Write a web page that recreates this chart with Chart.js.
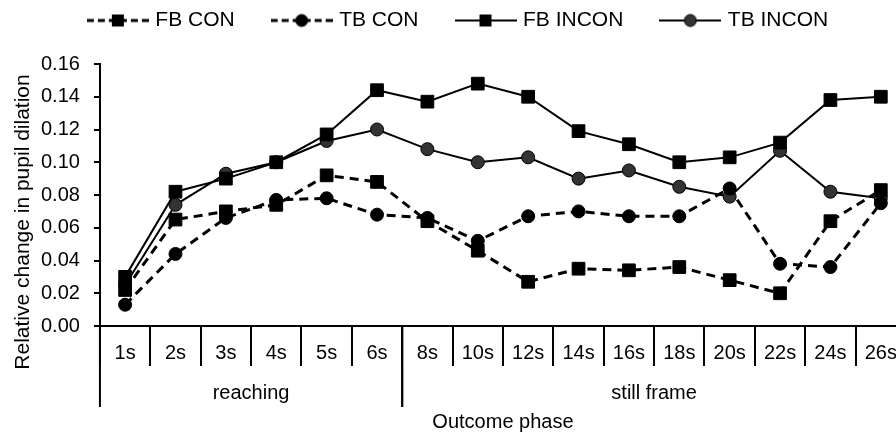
<!DOCTYPE html>
<html>
<head>
<meta charset="utf-8">
<script src="https://cdn.jsdelivr.net/npm/chart.js@4.4.0/dist/chart.umd.min.js"></script>
<style>
  body { margin: 0; overflow: hidden; background: #fff; }
</style>
</head>
<body>
<canvas id="chart" width="916" height="438"></canvas>
<script>
// time bins along the outcome phase
const categories = ['1s', '2s', '3s', '4s', '5s', '6s', '8s', '10s', '12s', '14s', '16s', '18s', '20s', '22s', '24s', '26s'];
const groupLabels = ['reaching', 'still frame'];
const groupSizes = [6, 10];

const fbCon   = [0.022, 0.065, 0.070, 0.074, 0.092, 0.088, 0.064, 0.046, 0.027, 0.035, 0.034, 0.036, 0.028, 0.020, 0.064, 0.083];
const tbCon   = [0.013, 0.044, 0.066, 0.077, 0.078, 0.068, 0.066, 0.052, 0.067, 0.070, 0.067, 0.067, 0.084, 0.038, 0.036, 0.075];
const fbIncon = [0.030, 0.082, 0.090, 0.100, 0.117, 0.144, 0.137, 0.148, 0.140, 0.119, 0.111, 0.100, 0.103, 0.112, 0.138, 0.140];
const tbIncon = [0.025, 0.074, 0.093, 0.100, 0.113, 0.120, 0.108, 0.100, 0.103, 0.090, 0.095, 0.085, 0.079, 0.107, 0.082, 0.078];

const yTicks = [0, 0.02, 0.04, 0.06, 0.08, 0.10, 0.12, 0.14, 0.16];
const yTitle = 'Relative change in pupil dilation';

const FONT = '"Liberation Sans", Arial, sans-serif';

function makeSeries(label, values, dashed, shape, fill) {
    return {
        label: label,
        data: values,
        borderColor: '#000',
        borderWidth: dashed ? 3 : 2,
        borderDash: dashed ? [9, 6] : [],
        pointStyle: shape,
        pointRadius: shape === 'rect' ? 9 : 6.5,
        pointBackgroundColor: fill,
        pointBorderColor: '#000',
        pointBorderWidth: 1,
        tension: 0,
        fill: false,
        _dashed: dashed,
        _fill: fill
    };
}

// small picture of line + marker for the legend
function legendIcon(ds) {
    const c = document.createElement('canvas');
    c.width = 62;
    c.height = 16;
    const g = c.getContext('2d');
    g.strokeStyle = '#000';
    g.lineWidth = ds._dashed ? 3 : 2;
    if (ds._dashed) g.setLineDash([7, 4]);
    g.beginPath();
    g.moveTo(0, 8);
    g.lineTo(62, 8);
    g.stroke();
    g.setLineDash([]);
    g.fillStyle = ds._fill;
    g.lineWidth = 1;
    if (ds.pointStyle === 'rect') {
        g.fillRect(25, 2, 12, 12);
    } else {
        g.beginPath();
        g.arc(31, 8, 6, 0, Math.PI * 2);
        g.fill();
        g.stroke();
    }
    return c;
}

// more room under the legend, and nudge it left
const legendGap = {
    id: 'legendGap',
    beforeInit(chart) {
        const fit = chart.legend.fit;
        chart.legend.fit = function () {
            fit.call(this);
            this.height += 23;
        };
    },
    afterLayout(chart) {
        chart.legend.left -= 12;
        chart.legend.right -= 12;
    }
};

// "reaching" / "still frame" row under the tick labels, plus the y title
const groupRow = {
    id: 'groupRow',
    afterDraw(chart) {
        const x = chart.scales.x;
        const ctx = chart.ctx;
        const b = chart.chartArea.bottom;
        const half = (x.getPixelForValue(1) - x.getPixelForValue(0)) / 2;
        ctx.save();
        ctx.strokeStyle = '#000';
        ctx.lineWidth = 2;
        ctx.fillStyle = '#000';
        ctx.font = '20px ' + FONT;
        ctx.textAlign = 'center';
        ctx.textBaseline = 'middle';
        let start = 0;
        groupSizes.forEach((n, i) => {
            const x0 = x.getPixelForValue(start) - half;
            const x1 = x.getPixelForValue(start + n - 1) + half;
            [x0, x1].forEach(px => {
                ctx.beginPath();
                ctx.moveTo(px, b);
                ctx.lineTo(px, b + 81);
                ctx.stroke();
            });
            ctx.fillText(groupLabels[i], (x0 + x1) / 2, b + 67);
            start += n;
        });

        ctx.font = '21px ' + FONT;
        ctx.translate(23, 222);
        ctx.rotate(-Math.PI / 2);
        ctx.fillText(yTitle, 0, 0);
        ctx.restore();
    }
};

const data = {
    labels: categories,
    datasets: [
        makeSeries('FB CON', fbCon, true, 'rect', '#000'),
        makeSeries('TB CON', tbCon, true, 'circle', '#000'),
        makeSeries('FB INCON', fbIncon, false, 'rect', '#000'),
        makeSeries('TB INCON', tbIncon, false, 'circle', '#333')
    ]
};

const config = {
    type: 'line',
    data: data,
    options: {
        responsive: false,
        animation: false,
        layout: { padding: { top: -30, left: 27, right: 0, bottom: 0 } },
        plugins: {
            tooltip: { enabled: false },
            legend: {
                position: 'top',
                labels: {
                    usePointStyle: true,
                    pointStyleWidth: 54,
                    padding: 40,
                    color: '#000',
                    font: { size: 21, family: FONT },
                    generateLabels: chart => chart.data.datasets.map((ds, i) => ({
                        text: ds.label,
                        pointStyle: legendIcon(ds),
                        fillStyle: '#000',
                        strokeStyle: '#000',
                        lineWidth: 0,
                        hidden: false,
                        datasetIndex: i,
                        fontColor: '#000'
                    }))
                }
            }
        },
        scales: {
            x: {
                type: 'category',
                offset: true,
                grid: { offset: true, drawOnChartArea: false, tickLength: 40, color: '#000', lineWidth: 2 },
                border: { color: '#000', width: 2 },
                ticks: { color: '#000', font: { size: 20, family: FONT }, padding: -25, maxRotation: 0, autoSkip: false },
                title: {
                    display: true,
                    text: 'Outcome phase',
                    color: '#000',
                    font: { size: 20, family: FONT },
                    padding: { top: 70, bottom: 4 }
                }
            },
            y: {
                min: 0,
                max: 0.16,
                afterBuildTicks: axis => { axis.ticks = yTicks.map(v => ({ value: v })); },
                grid: { drawOnChartArea: false, tickLength: 6, color: '#000', lineWidth: 2 },
                border: { color: '#000', width: 2 },
                ticks: { color: '#000', font: { size: 20, family: FONT }, padding: 14, callback: v => v.toFixed(2) }
            }
        }
    },
    plugins: [legendGap, groupRow]
};

let ctx = document.getElementById('chart').getContext('2d');
new Chart(ctx, config);
</script>
</body>
</html>
